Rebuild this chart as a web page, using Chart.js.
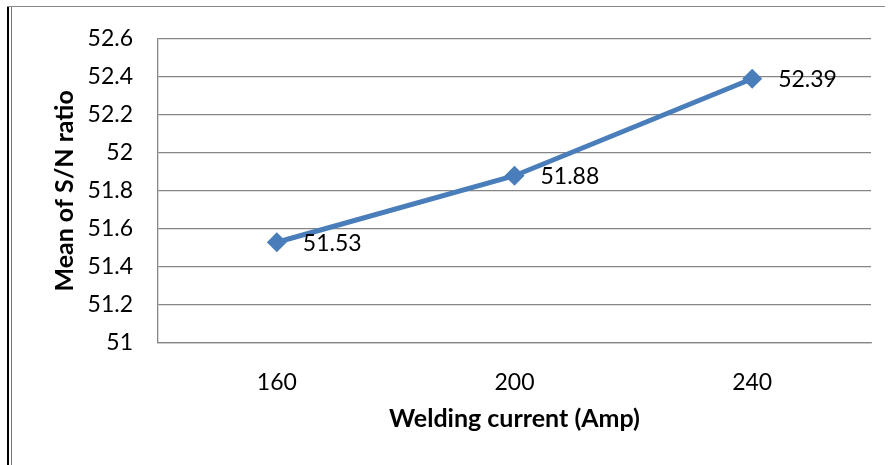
<!DOCTYPE html>
<html>
<head>
<meta charset="utf-8">
<script src="https://cdn.jsdelivr.net/npm/chart.js@4"></script>
<style>
  html, body { margin: 0; padding: 0; background: #fff; }
  #wrap { position: relative; width: 895px; height: 465px; }
  #chart { position: absolute; left: 0; top: 0; }
  .edge { position: absolute; }
</style>
</head>
<body>
<div id="wrap">
  <div class="edge" style="left:7px; top:6px; width:2px; height:459px; background:#000;"></div>
  <div class="edge" style="left:11px; top:6px; width:1px; height:459px; background:#777;"></div>
  <div class="edge" style="left:7px; top:6px; width:878px; height:1px; background:#8a8a8a;"></div>
  <canvas id="chart" width="895" height="465"></canvas>
</div>
<script>
// chart data
const currents = ['160', '200', '240'];
const snMeans = [51.53, 51.88, 52.39];
const yTickLabels = ['51', '51.2', '51.4', '51.6', '51.8', '52', '52.2', '52.4', '52.6'];

const FONT = 'Lato, "Open Sans", sans-serif';

// writes the value to the right of each point
const pointLabels = {
  id: 'pointLabels',
  afterDatasetsDraw(chart) {
    const ctx = chart.ctx;
    const meta = chart.getDatasetMeta(0);
    ctx.save();
    ctx.font = '23px ' + FONT;
    ctx.fillStyle = '#000';
    ctx.textAlign = 'left';
    ctx.textBaseline = 'middle';
    meta.data.forEach((pt, i) => {
      ctx.fillText(snMeans[i].toFixed(2), pt.x + 26, pt.y + 1);
    });
    ctx.restore();
  }
};

const ctx = document.getElementById('chart').getContext('2d');
new Chart(ctx, {
  type: 'line',
  data: {
    labels: currents,
    datasets: [{
      data: snMeans,
      borderColor: '#4a7ebb',
      backgroundColor: '#4a7ebb',
      borderWidth: 5,
      tension: 0,
      pointStyle: 'rectRot',
      pointRadius: 10,
      pointBorderWidth: 0,
      pointBackgroundColor: '#4a7ebb'
    }]
  },
  options: {
    responsive: false,
    animation: false,
    layout: { padding: { left: 46, top: 37, right: 24, bottom: 27 } },
    plugins: {
      legend: { display: false },
      tooltip: { enabled: false }
    },
    scales: {
      x: {
        offset: true,
        grid: { display: false, drawTicks: false },
        border: { display: true, color: '#868686', width: 1.3 },
        ticks: { color: '#000', font: { family: FONT, size: 23 }, padding: 26 },
        title: {
          display: true,
          text: 'Welding current (Amp)',
          color: '#000',
          font: { family: FONT, size: 25, weight: 'bold' }
        },
        afterFit: s => { s.height = 465 - 343 - 27; }
      },
      y: {
        min: 51,
        max: 52.6,
        ticks: {
          stepSize: 0.2,
          color: '#000',
          font: { family: FONT, size: 23 },
          padding: 25,
          callback: (v, i) => yTickLabels[i]
        },
        grid: { color: '#868686', lineWidth: 1.3, drawTicks: false },
        border: { display: true, color: '#868686', width: 1.3 },
        title: {
          display: true,
          text: 'Mean of S/N ratio',
          color: '#000',
          font: { family: FONT, size: 25, weight: 'bold' }
        },
        afterFit: s => { s.width = 158 - 46; }
      }
    }
  },
  plugins: [pointLabels]
});
</script>
</body>
</html>
